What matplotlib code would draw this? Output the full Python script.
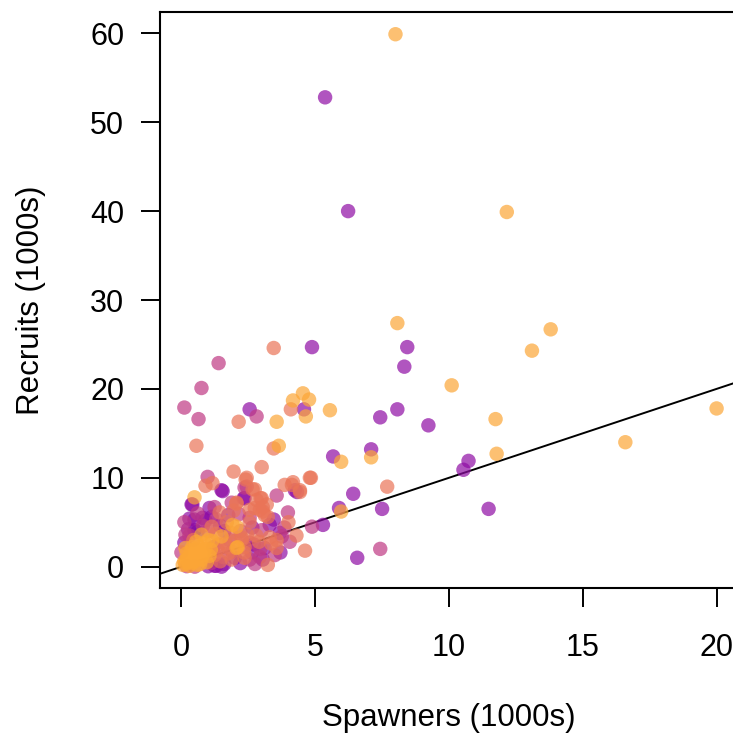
import matplotlib
matplotlib.use("Agg")
import matplotlib.pyplot as plt
import numpy as np

plt.rcParams['font.family'] = ['Liberation Sans', 'DejaVu Sans']

# colour codes (position on plasma colormap)
D, P, K, S, O = 0.2, 0.3, 0.45, 0.65, 0.8

# (spawners, recruits, colour) in 1000s
pts = [
    # sparse orange
    (8.0, 59.9, O), (12.16, 39.9, O), (8.07, 27.4, O), (13.8, 26.7, O), (13.1, 24.3, O),
    (10.1, 20.4, O), (11.74, 16.6, O), (11.78, 12.7, O), (16.59, 14.0, O), (20.0, 17.8, O),
    (7.69, 9.0, S), (7.09, 12.3, O), (5.97, 11.8, O), (5.97, 6.2, O),
    # sparse purple
    (5.37, 52.8, P), (6.23, 40.0, P), (4.88, 24.7, P), (8.44, 24.7, P), (8.33, 22.5, P),
    (8.07, 17.7, P), (9.23, 15.9, P), (10.73, 11.9, P), (10.54, 10.9, P), (11.48, 6.5, P),
    (7.43, 16.8, P), (7.09, 13.2, P), (5.67, 12.4, P), (6.42, 8.2, P), (5.89, 6.6, P),
    (7.50, 6.5, P), (6.57, 1.0, P), (5.29, 4.7, P),
    (7.43, 2.0, K), (4.88, 4.5, K), (4.05, 2.8, K), (3.75, 3.4, K), (4.62, 1.8, S),
    # upper-left group
    (3.45, 24.6, S), (1.39, 22.9, K), (0.75, 20.1, K), (0.11, 17.9, K), (0.64, 16.6, K),
    (2.81, 16.9, K), (2.55, 17.7, P), (2.14, 16.3, S), (3.56, 16.3, O), (4.17, 18.7, O),
    (4.54, 19.5, O), (4.77, 18.8, O), (4.65, 16.9, O), (5.55, 17.6, O), (3.64, 13.6, O),
    (4.09, 17.7, S), (0.56, 13.6, S), (3.45, 13.3, S), (4.58, 17.7, P),
    # middle
    (1.95, 10.7, S), (3.0, 11.2, S), (1.16, 9.4, S), (0.90, 9.1, S), (2.44, 10.0, S),
    (2.74, 8.7, S), (4.84, 10.0, S), (4.43, 8.6, S), (4.13, 9.2, S), (3.86, 9.2, S),
    (2.06, 7.2, S), (3.0, 7.7, S), (3.04, 6.2, S), (0.98, 10.1, K), (2.36, 8.9, K),
    (1.24, 6.7, K), (3.56, 8.0, K), (1.54, 8.5, P), (0.41, 7.0, P), (4.24, 8.6, P),
    (2.33, 7.7, P), (4.32, 8.4, P), (0.49, 7.8, O), (1.50, 8.6, P), (3.98, 6.1, K),
    (2.81, 7.5, S), (3.19, 7.0, S), (2.93, 6.4, S), (3.23, 5.6, S),
    (2.40, 9.8, S), (2.66, 8.7, S), (2.96, 7.7, S), (4.17, 9.5, S), (4.43, 8.4, S),
    (4.80, 10.0, S), (2.74, 6.6, S), (3.04, 6.7, S), (3.11, 5.8, S), (3.56, 3.0, S),
    (2.25, 3.3, S), (3.56, 2.1, S), (3.23, 0.2, S), (3.30, 3.3, S),
    (2.44, 9.0, K), (2.55, 5.5, K), (3.00, 4.1, K), (2.93, 1.1, K), (2.55, 0.8, K), (3.49, 1.3, K),
    (2.36, 7.7, P), (3.30, 4.7, P), (3.68, 3.8, P), (3.11, 2.1, P), (2.63, 1.6, P), (3.04, 0.8, P),
    (2.06, 4.5, O), (2.10, 2.2, O),
    # lower-left cluster
    (0.38, 7.0, P), (0.49, 5.3, P), (0.79, 5.5, P), (1.13, 5.6, P), (0.60, 3.9, D),
    (0.49, 4.1, D), (0.11, 2.7, P), (1.50, 0.0, P), (1.24, 0.1, P),
    (0.11, 5.0, K), (1.88, 7.2, K), (0.0, 1.6, K), (2.55, 2.7, K),
    (1.43, 6.1, S), (2.06, 7.1, S), (2.55, 6.4, S), (1.13, 4.5, S), (1.24, 1.3, S),
    (1.35, 1.9, S), (1.73, 2.2, S), (2.36, 2.2, S), (2.25, 3.0, S), (1.88, 0.8, S),
    (2.36, 1.0, S), (2.55, 5.0, S),
    (1.91, 4.7, O), (1.50, 3.4, O), (0.86, 2.7, O), (0.68, 1.9, O), (0.23, 1.0, O),
    (0.11, 0.6, O), (0.49, 0.6, O), (0.75, 0.8, O), (2.06, 2.1, O),
    (1.6, 4.0, P), (1.8, 3.0, K), (2.0, 1.0, P), (1.4, 2.5, S), (1.7, 5.0, S),
    (0.9, 5.2, P), (1.0, 4.0, K), (0.3, 3.5, K), (0.25, 4.2, P), (1.3, 5.3, K),
    (2.8, 3.5, S), (2.7, 2.5, P),
    (0.5, 0.0, K), (1.0, 0.05, P), (1.3, 0.1, P), (0.2, 0.05, K), (1.6, 0.3, P), (1.1, 0.4, K),
    (0.05, 0.2, O), (0.15, 0.3, O), (0.25, 0.5, O), (0.35, 0.9, O), (0.45, 1.3, O),
    (0.55, 1.6, O), (0.65, 2.3, O), (0.8, 1.3, O), (0.95, 0.5, O), (0.3, 0.1, O),
    (0.6, 0.2, O), (0.9, 2.0, O), (1.0, 3.0, O), (0.2, 1.5, O), (0.4, 2.2, O),
    (1.05, 1.2, O), (0.7, 0.3, O),
    # extra density in the cluster
    (1.75, 5.8, P), (2.15, 5.9, K), (1.95, 6.3, S), (1.45, 4.6, P), (1.85, 3.8, S),
    (2.2, 4.0, K), (2.45, 3.6, S), (2.65, 4.4, P), (2.9, 2.8, S), (1.55, 1.1, K),
    (1.75, 1.5, S), (2.2, 0.4, P), (2.75, 0.3, K), (1.2, 2.2, P), (1.65, 2.6, S),
    (2.0, 2.9, S), (0.8, 4.6, K), (0.6, 6.0, K), (0.3, 5.4, P), (1.05, 6.6, P),
    (0.15, 3.6, K), (0.45, 3.0, S), (1.3, 3.7, S), (1.15, 2.9, O), (0.75, 3.6, O),
    (0.55, 2.8, O), (0.35, 1.8, O), (0.15, 2.1, O), (0.85, 1.6, O), (0.6, 1.0, O),
    (0.4, 0.4, O), (0.2, 0.8, O), (0.7, 1.4, O), (1.1, 1.9, O), (0.5, 1.9, O),
    (1.45, 0.6, S), (1.9, 1.7, K), (2.35, 1.6, S), (2.95, 2.0, K), (3.35, 2.6, S),
    (3.7, 1.6, P), (4.3, 3.5, S), (3.85, 4.4, K), (3.45, 5.3, P), (4.0, 5.0, S),
]

spawners = [p[0] for p in pts]
recruits = [p[1] for p in pts]
colour = [p[2] for p in pts]

xticks = [0, 5, 10, 15, 20]
yticks = [0, 10, 20, 30, 40, 50, 60]

fig = plt.figure(figsize=(7.33, 7.40), dpi=100)
ax = fig.add_axes([160/733, (740-588)/740, (738-160)/733, (588-12)/740])

order = np.argsort(colour, kind='stable')
xs = np.array(spawners)[order]
ys = np.array(recruits)[order]
cs = plt.cm.plasma(np.array(colour)[order])

lims = np.array([-5, 30])
ax.plot(lims, lims, color='black', lw=1.4, zorder=1)
ax.scatter(xs, ys, s=108, c=cs, alpha=0.7, edgecolors='none', zorder=2)

ax.set_xlim(-0.8, 20.8)
ax.set_ylim(-2.4, 62.4)
ax.set_xticks(xticks)
ax.set_yticks(yticks)
ax.set_xticklabels([str(t) for t in xticks])
ax.set_yticklabels([str(t) for t in yticks])
for sp in ax.spines.values():
    sp.set_linewidth(1.5)
ax.tick_params(axis='both', length=13.7, width=1.4, labelsize=22)
ax.tick_params(axis='y', pad=12)
ax.tick_params(axis='x', pad=19)

fig.text(449/733, 1-718/740, 'Spawners (1000s)', ha='center', va='center', fontsize=22.5)
fig.text(31/733, 1-300/740, 'Recruits (1000s)', ha='center', va='center', fontsize=22.5, rotation=90)

fig.savefig('out.png', dpi=100)
